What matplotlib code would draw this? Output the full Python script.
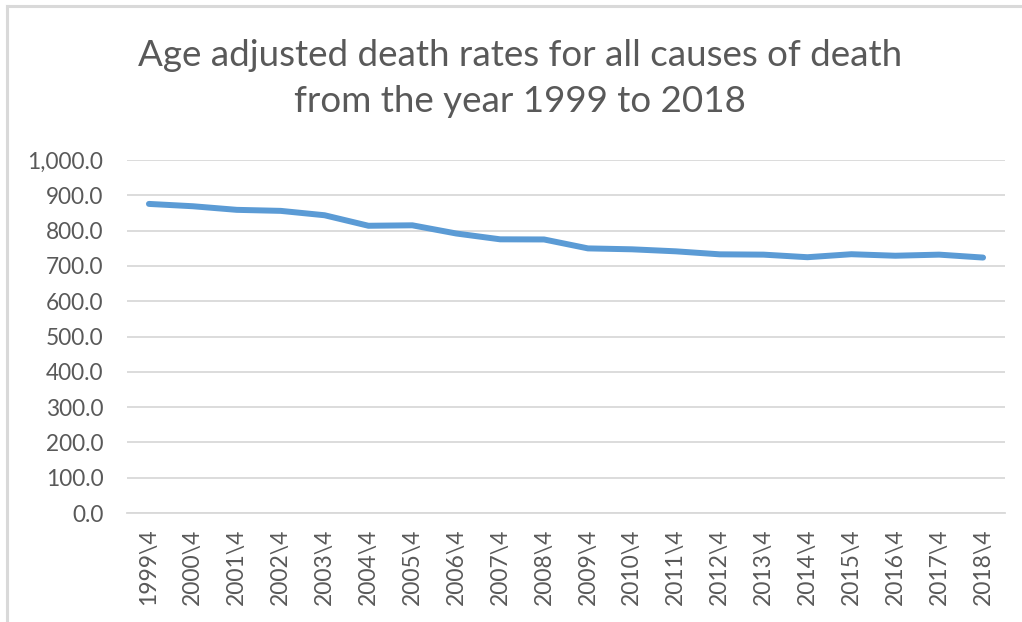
import matplotlib
matplotlib.use("Agg")
import matplotlib.pyplot as plt
from matplotlib.lines import Line2D
from matplotlib.ticker import FuncFormatter

years = [str(y) + "\\4" for y in range(1999, 2019)]
rates = [875.6, 869.0, 858.8, 855.9, 843.5, 813.7, 815.0, 791.8, 775.3, 774.9,
         749.6, 747.0, 741.3, 732.8, 731.9, 724.6, 733.1, 728.8, 731.9, 723.6]
yticks = [0, 100, 200, 300, 400, 500, 600, 700, 800, 900, 1000]
title = "Age adjusted death rates for all causes of death\nfrom the year 1999 to 2018"

FONT = ["Lato", "DejaVu Sans"]
TXT = "#595959"
GRID = "#d9d9d9"

W, H = 1022, 622
fig = plt.figure(figsize=(W / 100, H / 100), dpi=100)
ax = fig.add_axes([127 / W, 1 - 513 / H, (1005 - 127) / W, (513 - 160) / H])

x = list(range(len(years)))
ax.plot(x, rates, color="#5b9bd5", lw=4.3, solid_capstyle="round", solid_joinstyle="round")

ax.set_xlim(-0.5, len(years) - 0.5)
ax.set_ylim(0, 1000)
ax.set_yticks(yticks)
ax.yaxis.set_major_formatter(FuncFormatter(lambda v, p: f"{v:,.1f}"))
ax.set_xticks(x)
ax.set_xticklabels(years, rotation=90, va="top", ha="center")

ax.grid(axis="y", color=GRID, lw=1.3)
ax.set_axisbelow(True)
for s in ["top", "right", "left"]:
    ax.spines[s].set_visible(False)
ax.spines["bottom"].set_color(GRID)
ax.spines["bottom"].set_linewidth(1.3)
ax.tick_params(axis="both", length=0, colors=TXT)
ax.tick_params(axis="y", pad=17, labelsize=16.3)
ax.tick_params(axis="x", pad=11, labelsize=16.5)
for lab in ax.get_xticklabels() + ax.get_yticklabels():
    lab.set_family(FONT)

fig.text(520 / W, 1 - 39 / H, title, ha="center", va="top", fontsize=26.5,
         color=TXT, family=FONT, linespacing=1.48)

# chart border (top and left edges visible)
fig.add_artist(Line2D([7 / W, 1.0], [1 - 6 / H, 1 - 6 / H], transform=fig.transFigure,
                      color=GRID, lw=2.2))
fig.add_artist(Line2D([7 / W, 7 / W], [0, 1 - 6 / H], transform=fig.transFigure,
                      color=GRID, lw=2.2))

fig.savefig("out.png", dpi=100, facecolor="white")
